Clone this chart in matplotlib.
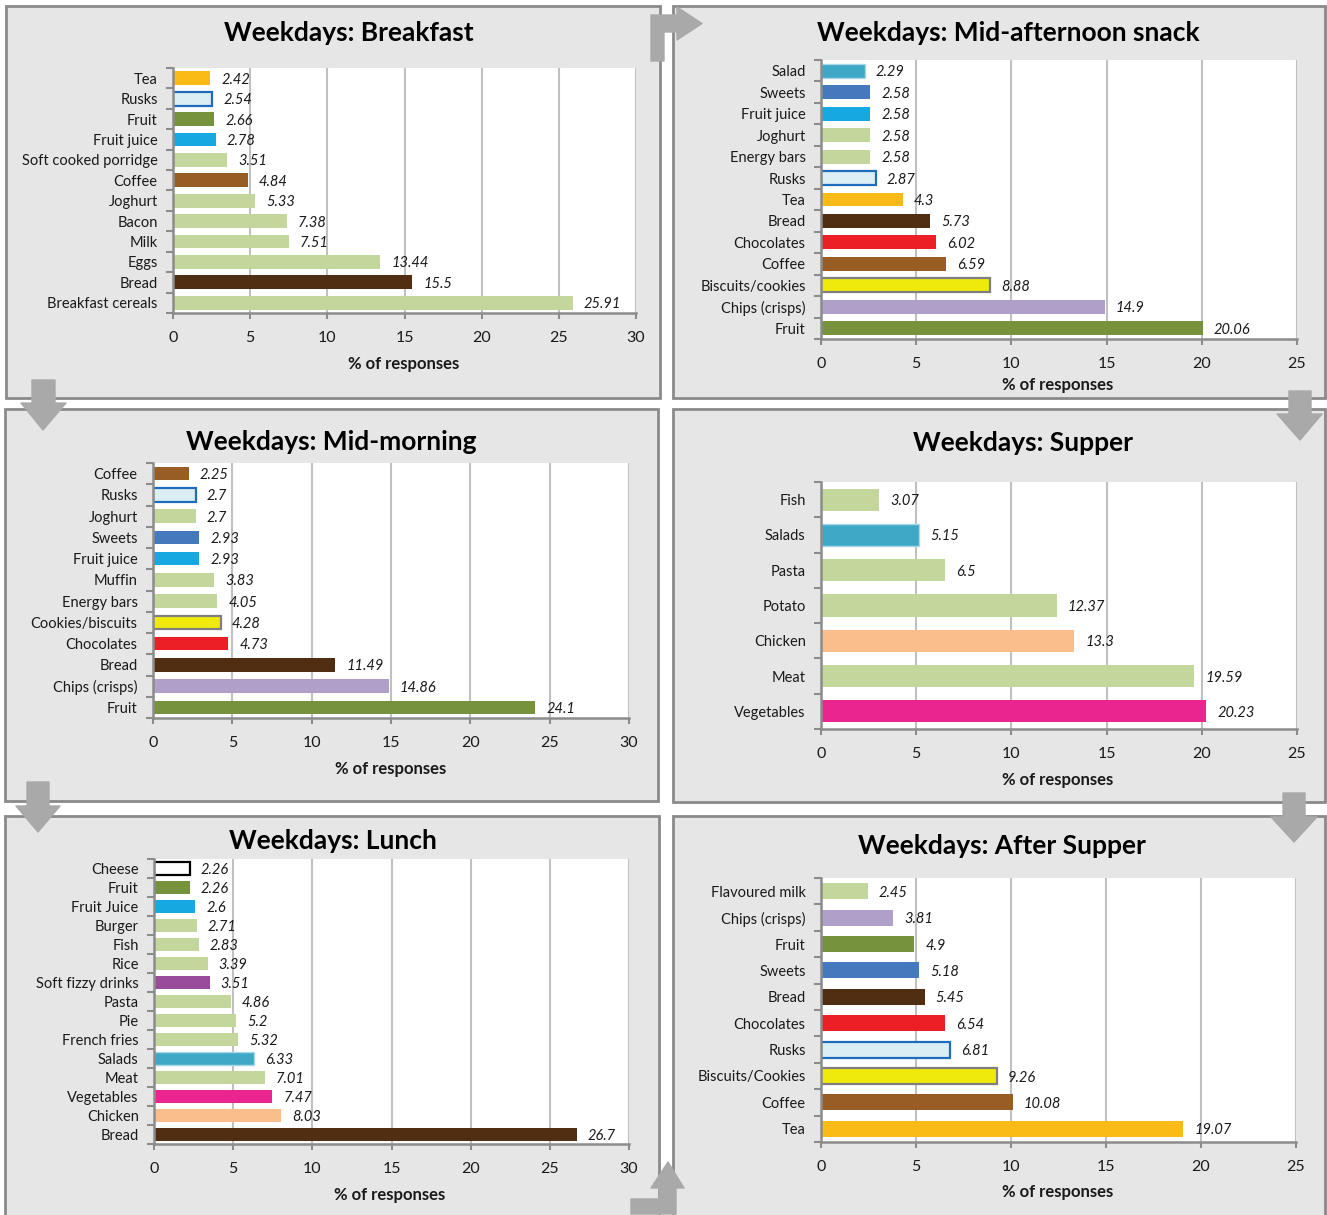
import matplotlib
matplotlib.use("Agg")
import matplotlib.pyplot as plt
from matplotlib.patches import Rectangle, Polygon
from matplotlib.ticker import FixedLocator, MultipleLocator

W, H = 1327, 1215
FONT = ["Lato", "DejaVu Sans"]
plt.rcParams["font.family"] = FONT

# ---- data -------------------------------------------------------------
breakfast_items = ["Tea", "Rusks", "Fruit", "Fruit juice", "Soft cooked porridge",
                   "Coffee", "Joghurt", "Bacon", "Milk", "Eggs", "Bread",
                   "Breakfast cereals"]
breakfast_values = [2.42, 2.54, 2.66, 2.78, 3.51, 4.84, 5.33, 7.38, 7.51,
                    13.44, 15.5, 25.91]

afternoon_items = ["Salad", "Sweets", "Fruit juice", "Joghurt", "Energy bars",
                   "Rusks", "Tea", "Bread", "Chocolates", "Coffee",
                   "Biscuits/cookies", "Chips (crisps)", "Fruit"]
afternoon_values = [2.29, 2.58, 2.58, 2.58, 2.58, 2.87, 4.3, 5.73, 6.02, 6.59,
                    8.88, 14.9, 20.06]

morning_items = ["Coffee", "Rusks", "Joghurt", "Sweets", "Fruit juice", "Muffin",
                 "Energy bars", "Cookies/biscuits", "Chocolates", "Bread",
                 "Chips (crisps)", "Fruit"]
morning_values = [2.25, 2.7, 2.7, 2.93, 2.93, 3.83, 4.05, 4.28, 4.73, 11.49,
                  14.86, 24.1]

supper_items = ["Fish", "Salads", "Pasta", "Potato", "Chicken", "Meat", "Vegetables"]
supper_values = [3.07, 5.15, 6.5, 12.37, 13.3, 19.59, 20.23]

lunch_items = ["Cheese", "Fruit", "Fruit Juice", "Burger", "Fish", "Rice",
               "Soft fizzy drinks", "Pasta", "Pie", "French fries", "Salads",
               "Meat", "Vegetables", "Chicken", "Bread"]
lunch_values = [2.26, 2.26, 2.6, 2.71, 2.83, 3.39, 3.51, 4.86, 5.2, 5.32, 6.33,
                7.01, 7.47, 8.03, 26.7]

after_items = ["Flavoured milk", "Chips (crisps)", "Fruit", "Sweets", "Bread",
               "Chocolates", "Rusks", "Biscuits/Cookies", "Coffee", "Tea"]
after_values = [2.45, 3.81, 4.9, 5.18, 5.45, 6.54, 6.81, 9.26, 10.08, 19.07]

# ---- bar styles per food ---------------------------------------------
LIGHT_GREEN = "#c3d69b"
STYLES = {
    "Tea": ("#fbbb16", None),
    "Rusks": ("#daeef3", "#1f6cbc"),
    "Fruit": ("#76923c", None),
    "Fruit juice": ("#16a8e0", None),
    "Fruit Juice": ("#16a8e0", None),
    "Coffee": ("#975d25", None),
    "Bread": ("#512d12", None),
    "Sweets": ("#4579be", None),
    "Salad": ("#3fa8c6", "#a8d8e6"),
    "Salads": ("#3fa8c6", "#a8d8e6"),
    "Chocolates": ("#ec1e26", None),
    "Biscuits/cookies": ("#efea0c", "#7f7f7f"),
    "Cookies/biscuits": ("#efea0c", "#7f7f7f"),
    "Biscuits/Cookies": ("#efea0c", "#7f7f7f"),
    "Chips (crisps)": ("#b09fc8", None),
    "Vegetables": ("#eb2590", None),
    "Chicken": ("#f9be8c", None),
    "Soft fizzy drinks": ("#974c9c", None),
    "Cheese": ("#ffffff", "#000000"),
}

PANEL_FILL = "#e5e6e5"
PANEL_EDGE = "#8a8a8a"
ARROW = "#a9a9a9"
AXIS_GREY = "#8c8c8c"
GRID_GREY = "#c0c0c0"

fig = plt.figure(figsize=(W / 100, H / 100), dpi=100)
bg = fig.add_axes([0, 0, 1, 1])
bg.set_xlim(0, W)
bg.set_ylim(H, 0)
bg.axis("off")

# panel boxes (x0, y0, x1, y1) in pixels
boxes = [(6, 6, 660, 398), (673, 6, 1325, 398),
         (5, 409, 658, 801), (673, 409, 1325, 802),
         (5, 816, 659, 1240), (673, 816, 1325, 1240)]
for x0, y0, x1, y1 in boxes:
    bg.add_patch(Rectangle((x0, y0), x1 - x0, y1 - y0, facecolor=PANEL_FILL,
                           edgecolor=PANEL_EDGE, lw=2, zorder=1))

# flow arrows between the panels
arrows = [
    [(651, 61), (651, 15), (677, 15), (677, 7), (702, 23.5), (677, 40),
     (677, 32), (664, 32), (664, 61)],
    [(32, 380), (55, 380), (55, 403), (66, 403), (43, 430), (21, 403), (32, 403)],
    [(1289, 391), (1311, 391), (1311, 414), (1322, 414), (1300, 440),
     (1277, 414), (1289, 414)],
    [(27, 782), (49, 782), (49, 806), (60, 806), (38, 832), (16, 806), (27, 806)],
    [(1283, 793), (1305, 793), (1305, 817), (1317, 817), (1294, 842),
     (1271, 817), (1283, 817)],
    [(631, 1199), (659, 1199), (659, 1188), (651, 1188), (668, 1162),
     (684, 1188), (676, 1188), (676, 1214), (631, 1214)],
]
for pts in arrows:
    bg.add_patch(Polygon(pts, closed=True, facecolor=ARROW, edgecolor=ARROW,
                         lw=1, joinstyle="round", zorder=3))


def panel(items, values, xmax, area, title, title_xy, xlabel_xy, bar_h):
    left, top, right, bottom = area
    ax = fig.add_axes([left / W, 1 - bottom / H, (right - left) / W,
                       (bottom - top) / H])
    ax.set_facecolor("white")
    n = len(items)
    pos = list(range(n))
    for i, (name, v) in enumerate(zip(items, values)):
        fc, ec = STYLES.get(name, (LIGHT_GREEN, None))
        if ec is None:
            ax.barh(i, v, height=bar_h, color=fc, lw=0, zorder=2)
        else:
            lw = 1.0 if name.startswith("Salad") else 1.6
            ax.barh(i, v, height=bar_h, facecolor=fc, edgecolor=ec, lw=lw,
                    zorder=2)
        ax.annotate(f"{v:g}", xy=(v, i), xytext=(8, 0), textcoords="offset points",
                    ha="left", va="center_baseline", fontsize=10.5,
                    style="italic", color="#1a1a1a")
    ax.set_xlim(0, xmax)
    ax.set_ylim(n - 0.5, -0.5)
    ax.set_yticks(pos)
    ax.set_yticklabels(items, fontsize=10.5, color="#1a1a1a")
    ax.yaxis.set_minor_locator(FixedLocator([i - 0.5 for i in range(n + 1)]))
    ax.tick_params(axis="y", which="major", length=0, pad=11)
    ax.tick_params(axis="y", which="minor", length=5, width=1.5,
                   color=AXIS_GREY, direction="out")
    ax.xaxis.set_major_locator(MultipleLocator(5))
    ax.tick_params(axis="x", which="major", length=4, width=1.5,
                   color=AXIS_GREY, direction="out", pad=9, labelsize=11.5,
                   labelcolor="#1a1a1a")
    ax.xaxis.grid(True, color=GRID_GREY, lw=1.5, zorder=0)
    ax.set_axisbelow(True)
    for s in ("top", "right"):
        ax.spines[s].set_visible(False)
    for s in ("left", "bottom"):
        ax.spines[s].set_color(AXIS_GREY)
        ax.spines[s].set_linewidth(1.8)
    bg.text(title_xy[0], title_xy[1], title, ha="center", va="center",
            fontsize=19, fontweight="bold", color="black", zorder=4)
    bg.text(xlabel_xy[0], xlabel_xy[1], "% of responses", ha="center",
            va="center", fontsize=12, fontweight="bold", color="#1a1a1a",
            zorder=4)
    return ax


panel(breakfast_items, breakfast_values, 30, (173, 68, 636, 313),
      "Weekdays: Breakfast", (349, 33), (404, 364), 0.68)
panel(afternoon_items, afternoon_values, 25, (821, 60, 1297, 339),
      "Weekdays: Mid-afternoon snack", (1008, 33), (1058, 385), 0.65)
panel(morning_items, morning_values, 30, (153, 463, 629, 718),
      "Weekdays: Mid-morning", (331, 442), (391, 769), 0.64)
panel(supper_items, supper_values, 25, (821, 482, 1297, 729),
      "Weekdays: Supper", (1023, 443), (1058, 780), 0.63)
panel(lunch_items, lunch_values, 30, (154, 859, 629, 1144),
      "Weekdays: Lunch", (333, 841), (390, 1195), 0.67)
panel(after_items, after_values, 25, (821, 878, 1296, 1142),
      "Weekdays: After Supper", (1002, 846), (1058, 1192), 0.6)

fig.savefig("out.png", dpi=100)
